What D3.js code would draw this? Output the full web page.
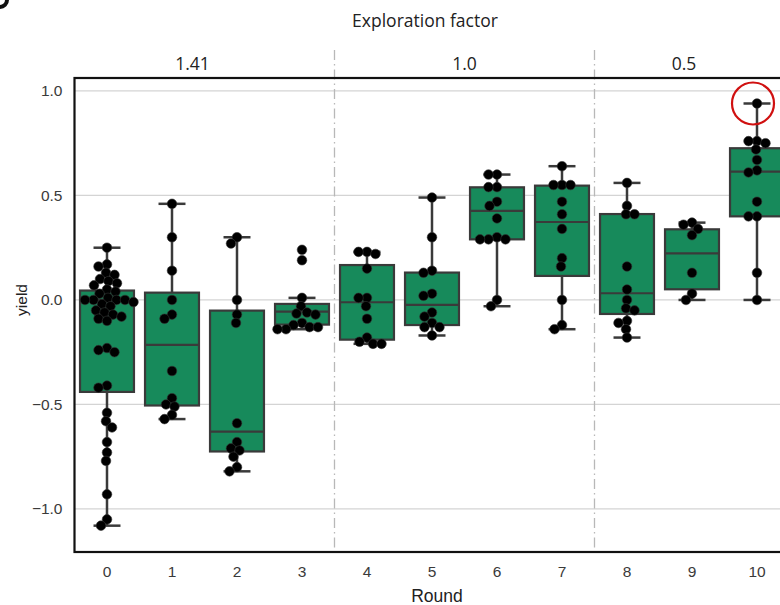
<!DOCTYPE html>
<html>
<head>
<meta charset="utf-8">
<script src="https://cdn.jsdelivr.net/npm/d3@7"></script>
<style>
  body { margin: 0; background: #fff; }
  svg { display: block; }
</style>
</head>
<body>
<script>
// Rounds on the x axis
const rounds = [0, 1, 2, 3, 4, 5, 6, 7, 8, 9, 10];

const yields = [
  [0.25, 0.17, 0.16, 0.13, 0.12, 0.10, 0.09, 0.08, 0.07, 0.05, 0.04, 0.03, 0.01, 0.0, 0.0,
   0.0, 0.0, -0.01, -0.02, -0.03, -0.05, -0.06, -0.07, -0.08, -0.09, -0.10, -0.23, -0.24,
   -0.25, -0.41, -0.42, -0.54, -0.58, -0.61, -0.68, -0.73, -0.77, -0.93, -1.05, -1.08],
  [0.46, 0.30, 0.14, 0.0, -0.07, -0.09, -0.34, -0.47, -0.50, -0.51, -0.55, -0.57],
  [0.30, 0.27, 0.0, -0.07, -0.11, -0.59, -0.68, -0.71, -0.72, -0.75, -0.80, -0.82],
  [0.24, 0.19, 0.01, -0.03, -0.06, -0.065, -0.07, -0.11, -0.12, -0.13, -0.13, -0.14, -0.14],
  [0.23, 0.23, 0.22, 0.15, 0.01, 0.01, -0.03, -0.09, -0.18, -0.20, -0.21, -0.21],
  [0.49, 0.30, 0.14, 0.13, 0.03, 0.02, -0.06, -0.08, -0.11, -0.13, -0.13, -0.17],
  [0.60, 0.60, 0.54, 0.54, 0.47, 0.45, 0.39, 0.30, 0.29, 0.29, 0.29, 0.0, -0.03],
  [0.64, 0.55, 0.55, 0.55, 0.47, 0.41, 0.34, 0.20, 0.16, 0.0, -0.12, -0.14],
  [0.56, 0.45, 0.41, 0.41, 0.16, 0.05, 0.0, -0.04, -0.05, -0.10, -0.11, -0.14, -0.18],
  [0.37, 0.36, 0.34, 0.31, 0.13, 0.03, 0.0],
  [0.94, 0.76, 0.76, 0.75, 0.72, 0.67, 0.62, 0.61, 0.47, 0.40, 0.40, 0.13, 0.0]
];

// Box statistics per round, as drawn in the picture
const q1 = [-0.44, -0.505, -0.725, -0.118, -0.19, -0.12, 0.29, 0.115, -0.067, 0.051, 0.40];
const medians = [0.0, -0.215, -0.63, -0.056, -0.011, -0.024, 0.426, 0.373, 0.032, 0.223, 0.614];
const q3 = [0.045, 0.035, -0.051, -0.019, 0.167, 0.131, 0.539, 0.547, 0.411, 0.338, 0.726];
const whiskLow = [-1.08, -0.57, -0.82, -0.14, -0.21, -0.17, -0.03, -0.14, -0.18, 0.0, 0.0];
const whiskHigh = [0.25, 0.46, 0.30, 0.01, 0.23, 0.49, 0.60, 0.64, 0.56, 0.37, 0.94];

// Exploration factor groups (first and last round of each)
const groupLabels = ["1.41", "1.0", "0.5"];
const groupStart = [0, 4, 8];
const groupEnd = [3, 7, 10];

const yTicks = [-1.0, -0.5, 0.0, 0.5, 1.0];

// The highlighted best result
const highlight = { round: 10, value: 0.94 };

const W = 780, H = 605;
const margin = { top: 78, left: 74.5, bottom: 552 };
const R = 4.8;
const FONT = "'Liberation Sans', Arial, sans-serif";
const TITLE_FONT = "'Open Sans', 'Noto Sans', sans-serif";

const svg = d3.select("body").append("svg")
  .attr("width", W)
  .attr("height", H);

const x = d3.scaleBand()
  .domain(rounds)
  .range([margin.left, margin.left + 65 * rounds.length])
  .padding(0);
const cx = r => x(r) + x.bandwidth() / 2;

const y = d3.scaleLinear()
  .domain([-1.206, 1.062])
  .range([margin.bottom, margin.top]);

const boxW = x.bandwidth() * 0.83;
const capW = boxW * 0.5;

// Horizontal grid lines
svg.append("g")
  .selectAll("line")
  .data(yTicks)
  .join("line")
  .attr("x1", margin.left)
  .attr("x2", W + 20)
  .attr("y1", d => y(d))
  .attr("y2", d => y(d))
  .attr("stroke", "#d4d4d4")
  .attr("stroke-width", 1.3);

// Dash-dot separators between exploration factor groups
svg.append("g")
  .selectAll("line")
  .data(groupEnd.slice(0, -1))
  .join("line")
  .attr("x1", d => x(d) + x.bandwidth())
  .attr("x2", d => x(d) + x.bandwidth())
  .attr("y1", 50)
  .attr("y2", margin.bottom)
  .attr("stroke", "#b8b8b8")
  .attr("stroke-width", 1.3)
  .attr("stroke-dasharray", "10,4,1.5,4");

// Boxes
const boxes = svg.append("g");
rounds.forEach((r, i) => {
  const g = boxes.append("g");
  const c = cx(r);
  // whiskers
  g.append("line")
    .attr("x1", c).attr("x2", c)
    .attr("y1", y(whiskHigh[i])).attr("y2", y(whiskLow[i]))
    .attr("stroke", "#3a3a3a").attr("stroke-width", 2.5);
  [whiskHigh[i], whiskLow[i]].forEach(v => {
    g.append("line")
      .attr("x1", c - capW / 2).attr("x2", c + capW / 2)
      .attr("y1", y(v)).attr("y2", y(v))
      .attr("stroke", "#3a3a3a").attr("stroke-width", 2.5);
  });
  g.append("rect")
    .attr("x", c - boxW / 2)
    .attr("width", boxW)
    .attr("y", y(q3[i]))
    .attr("height", y(q1[i]) - y(q3[i]))
    .attr("fill", "#178a5b")
    .attr("stroke", "#3a3a3a")
    .attr("stroke-width", 2.2);
  g.append("line")
    .attr("x1", c - boxW / 2).attr("x2", c + boxW / 2)
    .attr("y1", y(medians[i])).attr("y2", y(medians[i]))
    .attr("stroke", "#3a3a3a").attr("stroke-width", 2.2);
});

// Simple beeswarm: place each point as close to the centre as it can go
function swarm(values) {
  const placed = [];
  const sorted = values.slice().sort((a, b) => b - a);
  const minD = 2 * R - 1.2;
  sorted.forEach(v => {
    const py = y(v);
    let off = 0;
    for (let k = 0; k < 400; k++) {
      const cand = (k % 2 === 0 ? 1 : -1) * Math.ceil(k / 2) * 0.5;
      const ok = placed.every(p => {
        const dx = p.dx - cand, dy = p.py - py;
        return dx * dx + dy * dy >= minD * minD;
      });
      if (ok) { off = cand; break; }
    }
    placed.push({ v: v, py: py, dx: off });
  });
  return placed;
}

const pts = svg.append("g");
rounds.forEach((r, i) => {
  pts.selectAll(null)
    .data(swarm(yields[i]))
    .join("circle")
    .attr("cx", d => cx(r) + d.dx)
    .attr("cy", d => d.py)
    .attr("r", R)
    .attr("fill", "#000")
    .attr("stroke", "#333")
    .attr("stroke-width", 0.6);
});

// Red ring around the best yield
svg.append("circle")
  .attr("cx", cx(highlight.round) - 4)
  .attr("cy", y(highlight.value))
  .attr("r", 21)
  .attr("fill", "none")
  .attr("stroke", "#d01010")
  .attr("stroke-width", 2.2);

// Frame
svg.append("rect")
  .attr("x", margin.left)
  .attr("y", margin.top)
  .attr("width", 65 * rounds.length)
  .attr("height", margin.bottom - margin.top)
  .attr("fill", "none")
  .attr("stroke", "#111")
  .attr("stroke-width", 2.2);

// Y axis labels
const yAxis = d3.axisLeft(y).tickValues(yTicks).tickSize(0).tickPadding(12)
  .tickFormat(d => d3.format(".1f")(d).replace("-", "\u2212"));
svg.append("g")
  .attr("transform", `translate(${margin.left},0)`)
  .call(yAxis)
  .call(g => g.select(".domain").remove())
  .call(g => g.attr("font-family", FONT).attr("font-size", 15.5))
  .selectAll("text")
  .attr("fill", "#3a3a3a");

// X axis labels
const xAxis = d3.axisBottom(x).tickSize(0).tickPadding(14);
svg.append("g")
  .attr("transform", `translate(0,${margin.bottom})`)
  .call(xAxis)
  .call(g => g.select(".domain").remove())
  .call(g => g.attr("font-family", FONT).attr("font-size", 15.5))
  .selectAll("text")
  .attr("fill", "#3a3a3a");

svg.append("text")
  .attr("x", 437).attr("y", 602)
  .attr("text-anchor", "middle")
  .attr("font-family", FONT)
  .attr("font-size", 17.5)
  .attr("fill", "#222")
  .text("Round");

svg.append("text")
  .attr("transform", "translate(27,300) rotate(-90)")
  .attr("text-anchor", "middle")
  .attr("font-family", FONT)
  .attr("font-size", 15.5)
  .attr("fill", "#222")
  .text("yield");

// Top labels: exploration factor per group
svg.append("text")
  .attr("x", 425).attr("y", 27)
  .attr("text-anchor", "middle")
  .attr("font-family", TITLE_FONT)
  .attr("font-size", 17.5)
  .attr("fill", "#222")
  .text("Exploration factor");

svg.append("g")
  .selectAll("text")
  .data(groupLabels)
  .join("text")
  .attr("x", (d, i) => (x(groupStart[i]) + x(groupEnd[i]) + x.bandwidth()) / 2 - (i === 0 ? 12 : i === 2 ? 8 : 0))
  .attr("y", 70)
  .attr("text-anchor", "middle")
  .attr("font-family", TITLE_FONT)
  .attr("font-size", 17.5)
  .attr("fill", "#222")
  .text(d => d);

// Cut-off panel letter in the corner (only a sliver of it is visible)
svg.append("path")
  .attr("d", d3.arc()({ innerRadius: 5, outerRadius: 9, startAngle: Math.PI * 0.5, endAngle: Math.PI }))
  .attr("fill", "#111");
</script>
</body>
</html>
